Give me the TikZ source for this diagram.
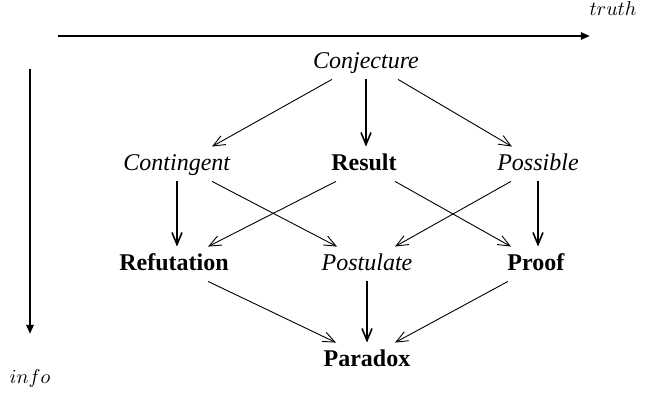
\documentclass[tikz,border=0pt]{standalone}
\usepackage{fontspec}
\setmainfont{Liberation Serif}
\usetikzlibrary{arrows.meta}

\begin{document}
\begin{tikzpicture}[x=0.5pt, y=-0.5pt,
    main/.style = {inner sep=0pt, anchor=base, text height=12pt, text depth=5pt, font=\fontsize{12}{14}\selectfont},
    weak/.style = {-{Straight Barb[length=6pt,width=5pt]}, line width=0.45pt},
    strong/.style = {-{Straight Barb[length=6pt,width=5pt]}, line width=0.8pt},
    axis/.style = {-{Triangle[length=4.5pt,width=3.5pt]}, line width=1.2pt}]
    \useasboundingbox (0,0) rectangle (645,394);
    % axes
    \coordinate (t0) at (58,36);
    \coordinate (t1) at (590,36);
    \coordinate (i0) at (30,69);
    \coordinate (i1) at (30,334);
    \draw[axis] (t0) -- (t1);
    \draw[axis] (i0) -- (i1);
    \node[anchor=base, inner sep=0pt] (truth) at (613,16) {$truth$};
    \node[anchor=base, inner sep=0pt] (info) at (30,384) {$info$};
    % lattice
    \node[main] (conj) at (366,69) {\textit{Conjecture}};
    \node[main] (cont) at (177,171) {\textit{Contingent}};
    \node[main] (res) at (364,171) {\textbf{Result}};
    \node[main] (poss) at (538,171) {\textit{Possible}};
    \node[main] (ref) at (174,271) {\textbf{Refutation}};
    \node[main] (post) at (367,271) {\textit{Postulate}};
    \node[main] (proof) at (536,271) {\textbf{Proof}};
    \node[main] (par) at (367,367) {\textbf{Paradox}};
    \draw[weak] ([xshift=-17pt]conj.south) -- ([xshift=17.5pt]cont.north);
    \draw[strong] (conj.south) -- (conj.south |- res.north);
    \draw[weak] ([xshift=16pt]conj.south) -- ([xshift=-13pt]poss.north);
    \draw[strong] (cont.south) -- (cont.south |- ref.north);
    \draw[weak] ([xshift=17.5pt]cont.south) -- ([xshift=-15pt]post.north);
    \draw[weak] ([xshift=-14pt]res.south) -- ([xshift=17pt]ref.north);
    \draw[weak] ([xshift=15.5pt]res.south) -- ([xshift=-12.5pt]proof.north);
    \draw[weak] ([xshift=-13.5pt]poss.south) -- ([xshift=14pt]post.north);
    \draw[strong] (poss.south) -- (poss.south |- proof.north);
    \draw[weak] ([xshift=17pt]ref.south) -- ([xshift=-15.5pt]par.north);
    \draw[strong] (post.south) -- (par.north);
    \draw[weak] ([xshift=-14pt]proof.south) -- ([xshift=14pt]par.north);
\end{tikzpicture}
\end{document}
